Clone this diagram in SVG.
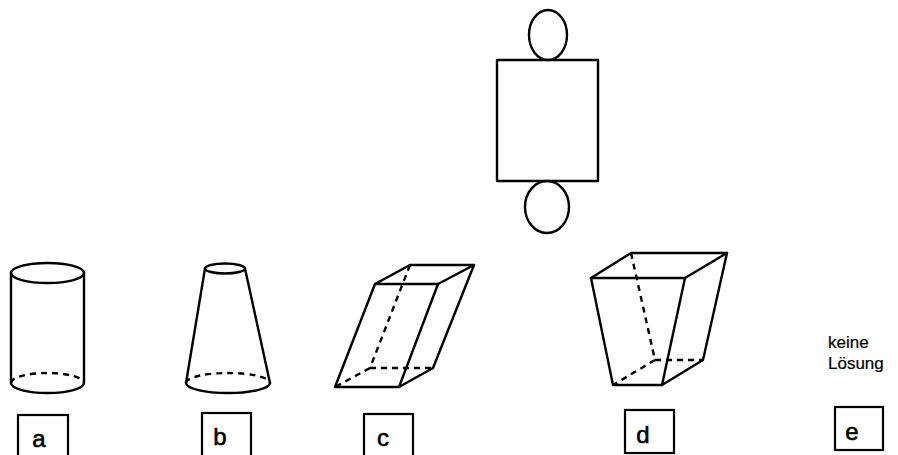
<svg xmlns="http://www.w3.org/2000/svg" width="898" height="455" viewBox="0 0 898 455">
<style>
.s{fill:none;stroke:#000;stroke-width:2.4;stroke-linejoin:round;stroke-linecap:round}
.h{fill:none;stroke:#000;stroke-width:2.4;stroke-dasharray:6 5}
.box{fill:#fff;stroke:#000;stroke-width:2.2}
.lbl{font-family:"Liberation Sans",Arial,sans-serif;font-size:24px;fill:#000;stroke:#000;stroke-width:0.6}
.txt{font-family:"Liberation Sans",Arial,sans-serif;font-size:17px;fill:#000;stroke:#000;stroke-width:0.2}
</style>
<rect width="898" height="455" fill="#fff"/>
<g id="net">
<ellipse class="s" cx="548" cy="35" rx="19" ry="25"/>
<rect class="s" x="497" y="60" width="101" height="121"/>
<ellipse class="s" cx="547" cy="207" rx="22" ry="26"/>
</g>
<g id="cylinder-a">
<ellipse class="s" cx="47.5" cy="273" rx="36.5" ry="10"/>
<line class="s" x1="11" y1="273" x2="11" y2="383"/>
<line class="s" x1="84" y1="273" x2="84" y2="383"/>
<path class="s" d="M11 383 A36.5 10 0 0 0 84 383"/>
<path class="h" d="M11 383 A36.5 10 0 0 1 84 383"/>
</g>
<g id="frustum-b">
<ellipse class="s" cx="225" cy="268.5" rx="20" ry="5"/>
<line class="s" x1="205" y1="268.5" x2="186" y2="383"/>
<line class="s" x1="245" y1="268.5" x2="270" y2="383"/>
<path class="s" d="M186 383 A42 10 0 0 0 270 383"/>
<path class="h" d="M186 383 A42 10 0 0 1 270 383"/>
</g>
<g id="prism-c">
<polygon class="s" points="375,284 438,284 399,387 335,387"/>
<polyline class="s" points="375,284 410,265 474,265 438,284"/>
<polyline class="s" points="474,265 433,368 399,387"/>
<line class="h" x1="410" y1="265" x2="370" y2="368"/>
<line class="h" x1="370" y1="368" x2="433" y2="368"/>
<line class="h" x1="370" y1="368" x2="335" y2="387"/>
</g>
<g id="frustum-d">
<polygon class="s" points="591,278 685,278 662,385 613,385"/>
<polyline class="s" points="591,278 631,253 727,253 685,278"/>
<polyline class="s" points="727,253 703,360 662,385"/>
<line class="h" x1="631" y1="253" x2="655" y2="360"/>
<line class="h" x1="655" y1="360" x2="703" y2="360"/>
<line class="h" x1="655" y1="360" x2="613" y2="385"/>
</g>
<g id="label-a">
<rect class="box" x="18" y="415" width="50" height="50"/>
<text class="lbl" x="39" y="447" text-anchor="middle">a</text>
</g>
<g id="label-b">
<rect class="box" x="202" y="413" width="49" height="50"/>
<text class="lbl" x="220" y="445" text-anchor="middle">b</text>
</g>
<g id="label-c">
<rect class="box" x="364" y="414" width="49" height="50"/>
<text class="lbl" x="383" y="446" text-anchor="middle">c</text>
</g>
<g id="label-d">
<rect class="box" x="625" y="410" width="49" height="43"/>
<text class="lbl" x="643" y="443" text-anchor="middle">d</text>
</g>
<g id="label-e">
<text class="txt" x="828" y="348">keine</text>
<text class="txt" x="828" y="369">Lösung</text>
<rect class="box" x="835" y="407" width="48" height="43"/>
<text class="lbl" x="852" y="440" text-anchor="middle">e</text>
</g>
<g id="connectors"/>
</svg>
